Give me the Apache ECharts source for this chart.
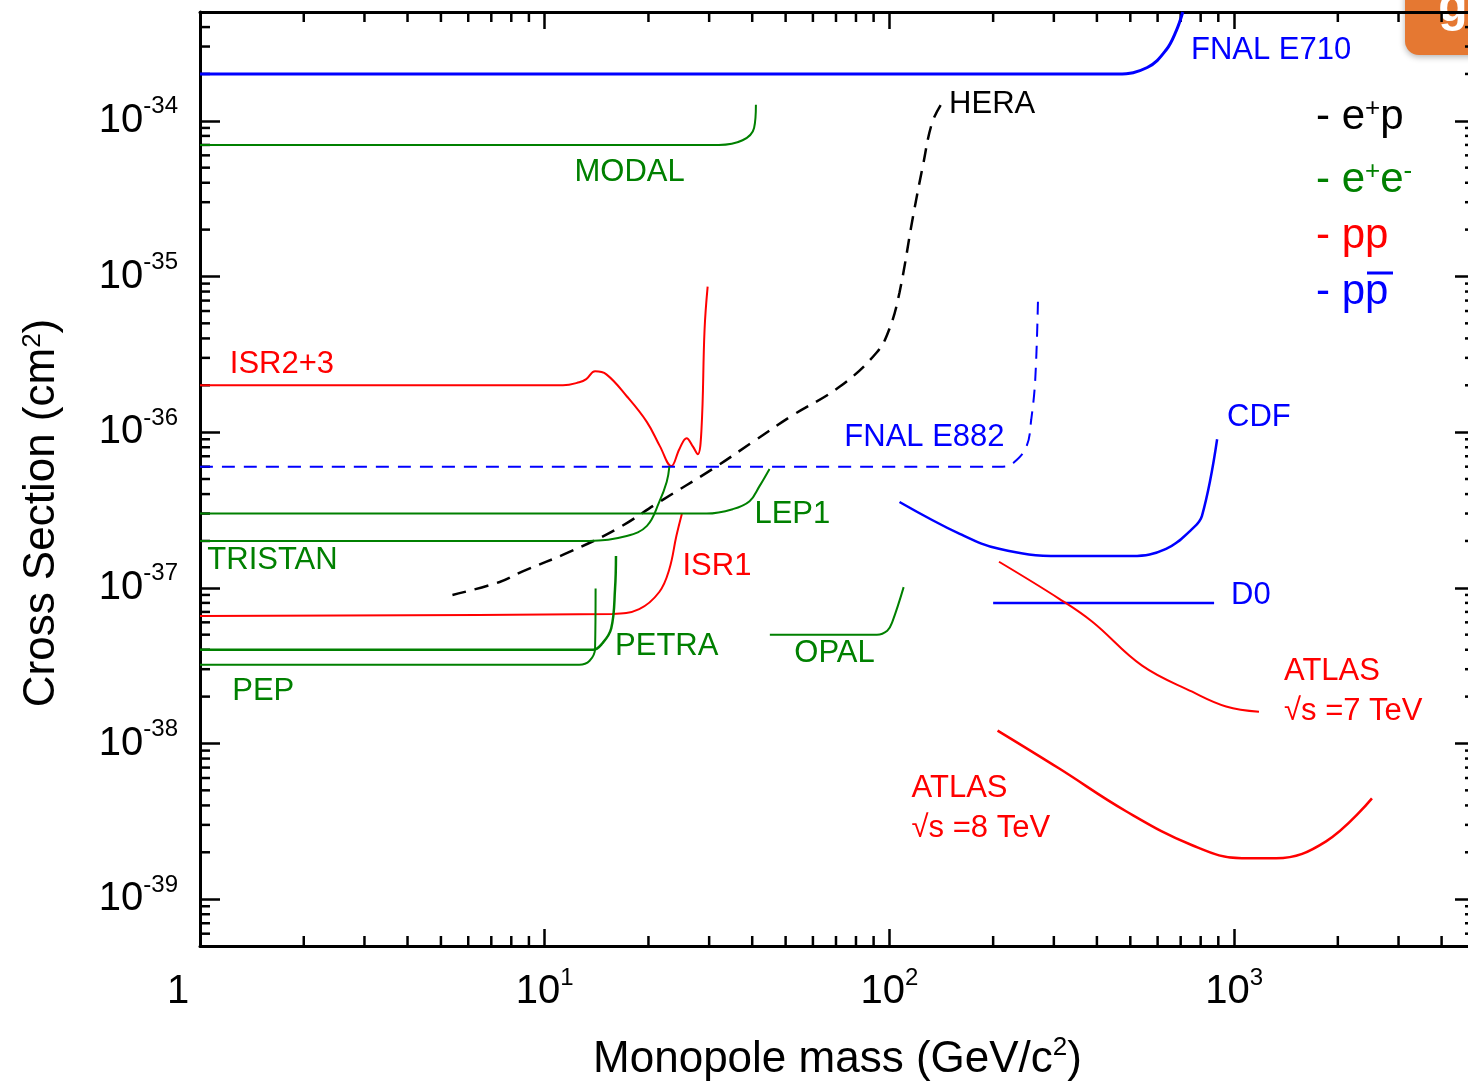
<!DOCTYPE html>
<html>
<head>
<meta charset="utf-8">
<title>Monopole cross section limits</title>
<script src="https://cdn.jsdelivr.net/npm/echarts@6/dist/echarts.min.js"></script>
<style>
  html, body { margin: 0; padding: 0; background: #fff; }
  #main { width: 1468px; height: 1083px; }
</style>
</head>
<body>
<div id="main"></div>
<script>
// mass in GeV/c^2, cross section in cm^2
var fnalE710 = [[1, 2e-34], [460, 2e-34], [560, 2.2e-34], [635, 2.85e-34], [680, 3.8e-34], [710, 5e-34]];
var modal = [[1, 7e-35], [32, 7e-35], [37.5, 7.5e-35], [40.5, 9e-35], [41, 1.27e-34]];
var hera = [[5.4, 9e-38], [7.4, 1.09e-37], [8.6, 1.27e-37], [11.8, 1.7e-37], [16.2, 2.39e-37], [21.5, 3.56e-37],
  [30.7, 5.8e-37], [40, 8.6e-37], [52, 1.27e-36], [72, 1.97e-36], [92, 3.26e-36], [100, 4.6e-36],
  [107, 7.9e-36], [117, 2.4e-35], [125, 5.1e-35], [133, 9.7e-35], [142, 1.3e-34]];
var isr23 = [[1, 2e-36], [11.3, 2e-36], [12.6, 2.09e-36], [13.2, 2.19e-36], [14, 2.46e-36], [15.1, 2.35e-36],
  [17.3, 1.7e-36], [19.8, 1.16e-36], [21.6, 8.1e-37], [23.3, 6.05e-37], [24.6, 7.8e-37], [25.8, 9.15e-37],
  [26.9, 8.1e-37], [27.8, 7.2e-37], [28.5, 1.04e-36], [29.1, 4.6e-36], [29.7, 8.6e-36]];
var fnalE882 = [[1, 6e-37], [213, 6e-37], [230, 6.4e-37], [250, 8.1e-37], [258, 1.21e-36], [265, 2.2e-36], [270, 7.5e-36]];
var cdf = [[107, 3.56e-37], [160, 2.22e-37], [208, 1.78e-37], [311, 1.6e-37], [506, 1.6e-37], [635, 1.78e-37],
  [756, 2.39e-37], [807, 2.9e-37], [893, 9e-37]];
var d0 = [[200, 8e-38], [875, 8e-38]];
var atlas7 = [[208, 1.47e-37], [311, 8.5e-38], [388, 6.05e-38], [541, 3.16e-38], [756, 2.15e-38], [948, 1.73e-38], [1181, 1.6e-38]];
var atlas8 = [[206, 1.21e-38], [311, 6.9e-39], [486, 3.67e-39], [756, 2.22e-39], [1054, 1.83e-39], [1324, 1.83e-39],
  [1849, 2.35e-39], [2512, 4.44e-39]];
var isr1 = [[1, 6.6e-38], [15.7, 6.8e-38], [18.8, 7.3e-38], [21.5, 9.4e-38], [23, 1.32e-37], [24.1, 2.15e-37], [25, 2.98e-37]];
var lep1 = [[1, 3e-37], [29.5, 3e-37], [35.1, 3.2e-37], [39.3, 3.6e-37], [42, 4.5e-37], [44.9, 5.8e-37]];
var tristan = [[1, 2e-37], [13.5, 2e-37], [17.3, 2.15e-37], [19.8, 2.5e-37], [21.5, 3.56e-37], [22.6, 4.8e-37], [23, 6e-37]];
var petra = [[1, 4e-38], [13.8, 4e-38], [14.7, 4.4e-38], [15.6, 5.5e-38], [16, 9.9e-38], [16.1, 1.6e-37]];
var pep = [[1, 3.2e-38], [12.6, 3.2e-38], [13.5, 3.4e-38], [14, 4.06e-38], [14.05, 9.9e-38]];
var opal = [[45, 5e-38], [92, 5e-38], [98.6, 5.3e-38], [102, 6.05e-38], [110, 1.01e-37]];

// curve labels: text, mass, cross section where the text starts (left, middle)
var labelTexts = ['FNAL E710', 'MODAL', 'HERA', 'ISR2+3', 'FNAL E882', 'CDF', 'LEP1', 'TRISTAN', 'ISR1',
  'D0', 'PETRA', 'OPAL', 'PEP', 'ATLAS\n\u221As =7 TeV', 'ATLAS\n\u221As =8 TeV'];
var labelMass = [750, 12.2, 149, 1.22, 74, 954, 40.6, 1.05, 25.1, 980, 16, 53, 1.24, 1396, 116];
var labelXsec = [2.85e-34, 4.64e-35, 1.27e-34, 2.73e-36, 9.3e-37, 1.25e-36, 2.98e-37, 1.49e-37, 1.38e-37,
  8.9e-38, 4.19e-38, 3.78e-38, 2.15e-38, 2.15e-38, 3.83e-39];

var X_MIN = 1, X_MAX = 5000;
var Y_UNIT = 1e-40; // log axis rounds tiny numbers, so plot in units of 1e-40 cm^2
var Y_MIN = 5, Y_MAX = 5e6;

var BLUE = '#0000ff', GREEN = '#008000', RED = '#ff0000', BLACK = '#000000';
var FONT = '"Liberation Sans", Arial, sans-serif';

var labelColors = [BLUE, GREEN, BLACK, RED, BLUE, BLUE, GREEN, GREEN, RED, BLUE, GREEN, GREEN, GREEN, RED, RED];

function toPlot(arr) {
  return arr.map(function (p) { return [p[0], p[1] / Y_UNIT]; });
}

var curves = [
  { name: 'FNAL E710', data: fnalE710, color: BLUE, width: 3 },
  { name: 'MODAL', data: modal, color: GREEN, width: 2 },
  { name: 'HERA', data: hera, color: BLACK, width: 2.5, dash: [14, 9] },
  { name: 'ISR2+3', data: isr23, color: RED, width: 2 },
  { name: 'FNAL E882', data: fnalE882, color: BLUE, width: 2, dash: [13, 9] },
  { name: 'CDF', data: cdf, color: BLUE, width: 2.5 },
  { name: 'D0', data: d0, color: BLUE, width: 2.5 },
  { name: 'ATLAS 7', data: atlas7, color: RED, width: 2 },
  { name: 'ATLAS 8', data: atlas8, color: RED, width: 2.5 },
  { name: 'ISR1', data: isr1, color: RED, width: 2 },
  { name: 'LEP1', data: lep1, color: GREEN, width: 2 },
  { name: 'TRISTAN', data: tristan, color: GREEN, width: 2 },
  { name: 'PETRA', data: petra, color: GREEN, width: 2.5 },
  { name: 'PEP', data: pep, color: GREEN, width: 2 },
  { name: 'OPAL', data: opal, color: GREEN, width: 2 }
];

// minor ticks 2..9 of each decade
var xMinor = [], yMinor = [];
[1, 10, 100, 1000].forEach(function (d) {
  for (var k = 2; k <= 9; k++) if (d * k < X_MAX) xMinor.push([d * k, Y_MIN]);
});
[1, 10, 100, 1e3, 1e4, 1e5, 1e6].forEach(function (d) {
  for (var k = 2; k <= 9; k++) if (d * k > Y_MIN && d * k < Y_MAX) yMinor.push([X_MIN, d * k]);
});

var series = curves.map(function (c) {
  return {
    name: c.name,
    type: 'line',
    data: toPlot(c.data),
    showSymbol: false,
    smooth: 0.4,
    silent: true,
    lineStyle: { color: c.color, width: c.width, type: c.dash || 'solid' }
  };
});

series.push({
  type: 'custom',
  silent: true,
  data: xMinor,
  renderItem: function (params, api) {
    var cs = params.coordSys;
    var px = api.coord([api.value(0), Y_MIN])[0];
    var st = { stroke: '#000', lineWidth: 2.5 };
    return {
      type: 'group',
      children: [
        { type: 'line', shape: { x1: px, y1: cs.y + cs.height, x2: px, y2: cs.y + cs.height - 10 }, style: st },
        { type: 'line', shape: { x1: px, y1: cs.y, x2: px, y2: cs.y + 10 }, style: st }
      ]
    };
  }
});

series.push({
  type: 'custom',
  silent: true,
  data: yMinor,
  renderItem: function (params, api) {
    var cs = params.coordSys;
    var py = api.coord([X_MIN, api.value(1)])[1];
    var st = { stroke: '#000', lineWidth: 2.5 };
    return {
      type: 'group',
      children: [
        { type: 'line', shape: { x1: cs.x, y1: py, x2: cs.x + 10, y2: py }, style: st },
        { type: 'line', shape: { x1: cs.x + cs.width, y1: py, x2: cs.x + cs.width - 10, y2: py }, style: st }
      ]
    };
  }
});

series.push({
  type: 'custom',
  silent: true,
  data: labelMass.map(function (m, i) { return [m, labelXsec[i] / Y_UNIT, i]; }),
  renderItem: function (params, api) {
    var i = api.value(2);
    var pt = api.coord([api.value(0), api.value(1)]);
    return {
      type: 'text',
      x: pt[0],
      y: pt[1],
      style: {
        text: labelTexts[i],
        fill: labelColors[i],
        fontSize: 31,
        fontFamily: FONT,
        lineHeight: 40,
        align: 'left',
        verticalAlign: 'middle'
      }
    };
  }
});

var supRich = {
  b: { fontSize: 40, lineHeight: 52, fontFamily: FONT, color: '#000' },
  s: { fontSize: 24, lineHeight: 24, verticalAlign: 'top', fontFamily: FONT, color: '#000' },
  one: { fontSize: 40, lineHeight: 52, fontFamily: FONT, color: '#000', padding: [0, 44, 0, 0] }
};

var frameLine = { show: true, onZero: false, lineStyle: { color: '#000', width: 3 } };

var option = {
  animation: false,
  backgroundColor: '#fff',
  grid: { left: 200, right: -7, top: 12, bottom: 137, containLabel: false, outerBoundsMode: 'none' },
  xAxis: [{
    type: 'log',
    logBase: 10,
    min: X_MIN,
    max: X_MAX,
    position: 'bottom',
    axisLine: frameLine,
    axisTick: { inside: true, length: 17, lineStyle: { color: '#000', width: 2.5 } },
    axisLabel: {
      margin: 20,
      showMaxLabel: false,
      formatter: function (v) {
        if (Math.abs(v - 1) < 1e-9) return '{one|1}';
        return '{b|10}{s|' + Math.round(Math.log10(v)) + '}';
      },
      rich: supRich
    },
    splitLine: { show: false },
    name: 'Monopole mass (GeV/c{s|2})',
    nameLocation: 'middle',
    nameGap: 89,
    nameTextStyle: {
      fontSize: 44,
      fontFamily: FONT,
      color: '#000',
      lineHeight: 50,
      rich: { s: { fontSize: 26, lineHeight: 26, verticalAlign: 'top', fontFamily: FONT, color: '#000' } }
    }
  }, {
    type: 'log',
    logBase: 10,
    min: X_MIN,
    max: X_MAX,
    position: 'top',
    axisLine: frameLine,
    axisTick: { inside: true, length: 17, lineStyle: { color: '#000', width: 2.5 } },
    axisLabel: { show: false },
    splitLine: { show: false }
  }],
  yAxis: [{
    type: 'log',
    logBase: 10,
    min: Y_MIN,
    max: Y_MAX,
    position: 'left',
    axisLine: frameLine,
    axisTick: { inside: true, length: 20, lineStyle: { color: '#000', width: 2.5 } },
    axisLabel: {
      margin: 22,
      showMinLabel: false,
      showMaxLabel: false,
      formatter: function (v) {
        var e = Math.round(Math.log10(v)) + Math.round(Math.log10(Y_UNIT));
        return '{b|10}{s|' + e + '}';
      },
      rich: supRich
    },
    splitLine: { show: false }
  }, {
    type: 'log',
    logBase: 10,
    min: Y_MIN,
    max: Y_MAX,
    position: 'right',
    axisLine: frameLine,
    axisTick: { inside: true, length: 20, lineStyle: { color: '#000', width: 2.5 } },
    axisLabel: { show: false },
    splitLine: { show: false }
  }],
  graphic: [
    {
      type: 'text',
      x: 42,
      y: 513,
      rotation: Math.PI / 2,
      style: {
        text: 'Cross Section (cm{s|2})',
        fontSize: 44,
        fontFamily: FONT,
        fill: '#000',
        align: 'center',
        verticalAlign: 'middle',
        textAlign: 'center',
        textVerticalAlign: 'middle',
        rich: { s: { fontSize: 26, verticalAlign: 'top', fontFamily: FONT, fill: '#000' } }
      }
    },
    // legend by collision type
    { type: 'text', x: 1316, y: 117, style: { text: '- e{s|+}p', fill: BLACK, fontSize: 42, fontFamily: FONT, align: 'left', verticalAlign: 'middle', rich: { s: { fontSize: 26, verticalAlign: 'top', fill: BLACK, fontFamily: FONT } } } },
    { type: 'text', x: 1316, y: 180, style: { text: '- e{s|+}e{s|-}', fill: GREEN, fontSize: 42, fontFamily: FONT, align: 'left', verticalAlign: 'middle', rich: { s: { fontSize: 26, verticalAlign: 'top', fill: GREEN, fontFamily: FONT } } } },
    { type: 'text', x: 1316, y: 236, style: { text: '- pp', fill: RED, fontSize: 42, fontFamily: FONT, align: 'left', verticalAlign: 'middle' } },
    { type: 'text', x: 1316, y: 292, style: { text: '- pp', fill: BLUE, fontSize: 42, fontFamily: FONT, align: 'left', verticalAlign: 'middle' } },
    { type: 'line', shape: { x1: 1367, y1: 273, x2: 1393, y2: 273 }, style: { stroke: BLUE, lineWidth: 3 } },
    // corner badge
    {
      type: 'rect',
      shape: { x: 1405, y: -20, width: 90, height: 75, r: 14 },
      style: { fill: '#e57832', shadowBlur: 6, shadowColor: 'rgba(0,0,0,0.3)', shadowOffsetY: 2 }
    },
    { type: 'text', x: 1453, y: 8, style: { text: 'g', fill: '#fff', fontSize: 48, fontWeight: 'bold', fontFamily: FONT, align: 'center', verticalAlign: 'middle' } }
  ],
  series: series
};

var chart = echarts.init(document.getElementById('main'), null, { renderer: 'canvas' });
chart.setOption(option);
</script>
</body>
</html>
